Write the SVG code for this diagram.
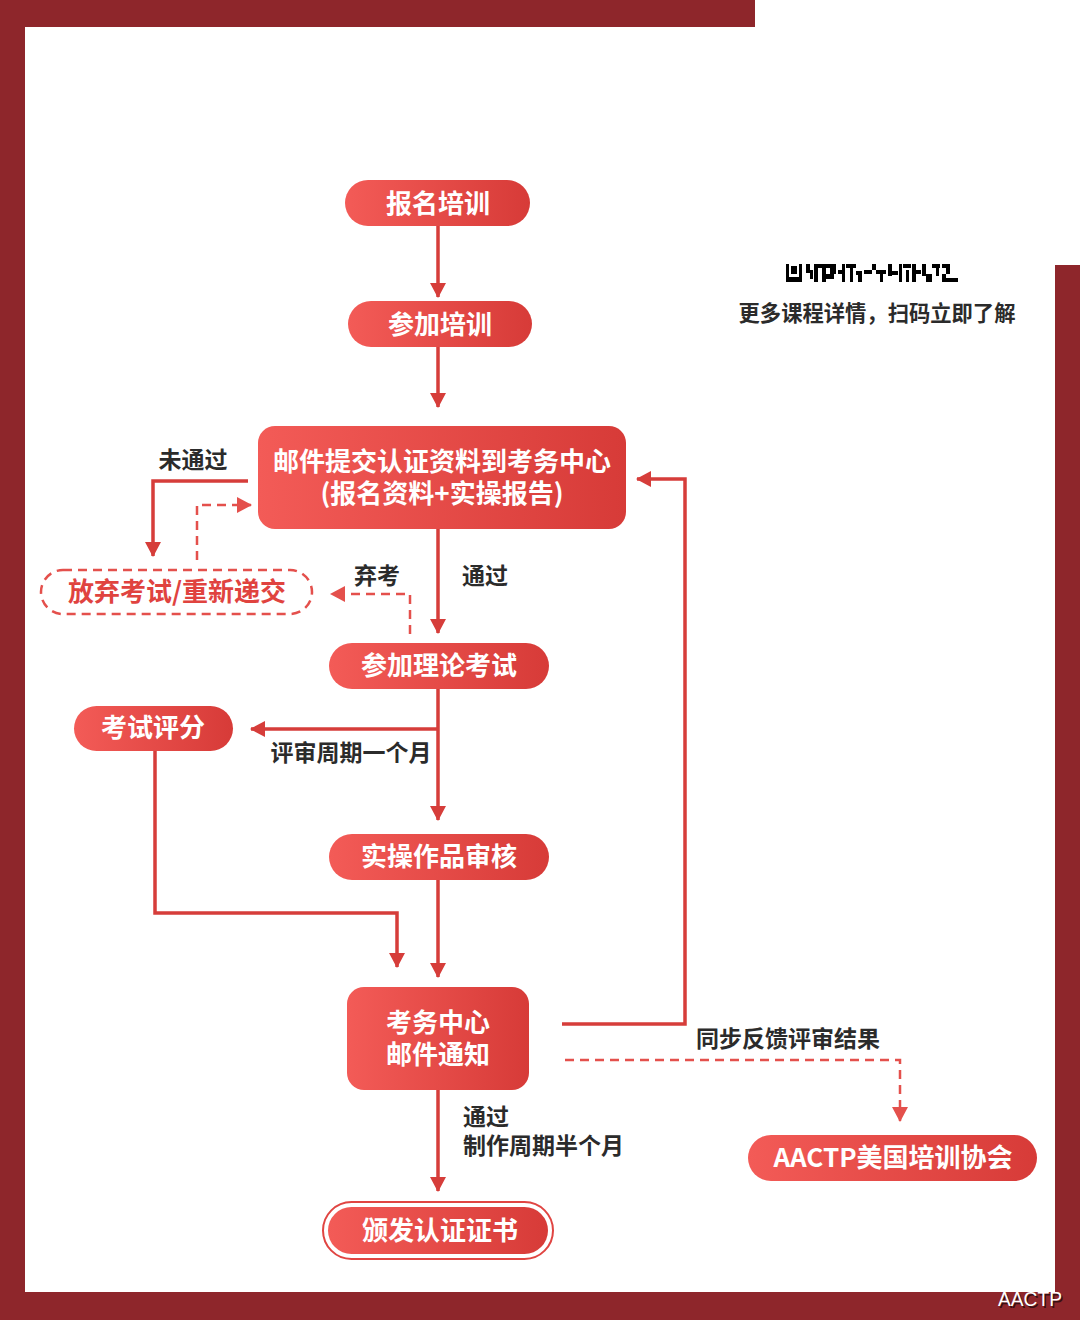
<svg xmlns="http://www.w3.org/2000/svg" width="1080" height="1320" viewBox="0 0 1080 1320">
<style>
.frame{fill:#8e262b}
.node{fill:url(#ng)}
.nt{font-family:"Noto Sans CJK SC","Noto Sans",sans-serif;font-weight:bold;font-size:26px;fill:#fff;text-anchor:middle}
.lb{font-family:"Noto Sans CJK SC","Noto Sans",sans-serif;font-weight:bold;font-size:23px;fill:#2b2b2b}
.ln{fill:none;stroke:#d63d3a;stroke-width:3.5;marker-end:url(#ah)}
.dl{fill:none;stroke:#e4504c;stroke-width:2.5;stroke-dasharray:9 6;marker-end:url(#ahd)}
.q{fill:#000}
</style>
<defs>
<linearGradient id="ng" x1="0" y1="0" x2="1" y2="0">
<stop offset="0" stop-color="#f35b57"/>
<stop offset="1" stop-color="#d73b38"/>
</linearGradient>
<marker id="ah" markerUnits="userSpaceOnUse" markerWidth="16" markerHeight="16" refX="14" refY="8" orient="auto">
<path d="M0,0 L15,8 L0,16 z" fill="#d63d3a"/>
</marker>
<marker id="ahd" markerUnits="userSpaceOnUse" markerWidth="16" markerHeight="16" refX="14" refY="8" orient="auto">
<path d="M0,0 L15,8 L0,16 z" fill="#e4504c"/>
</marker>
<linearGradient id="gv1" gradientUnits="userSpaceOnUse" x1="0" y1="226" x2="0" y2="298"><stop offset="0" stop-color="#f4b8b7"/><stop offset="1" stop-color="#d63d3a"/></linearGradient>
<linearGradient id="gv2" gradientUnits="userSpaceOnUse" x1="0" y1="347" x2="0" y2="408"><stop offset="0" stop-color="#f4b8b7"/><stop offset="1" stop-color="#d63d3a"/></linearGradient>
<linearGradient id="gv3" gradientUnits="userSpaceOnUse" x1="0" y1="529" x2="0" y2="634"><stop offset="0" stop-color="#f4b8b7"/><stop offset="0.5" stop-color="#d63d3a"/></linearGradient>
<linearGradient id="gv4" gradientUnits="userSpaceOnUse" x1="0" y1="689" x2="0" y2="820"><stop offset="0" stop-color="#f4c0bf"/><stop offset="0.6" stop-color="#d63d3a"/></linearGradient>
<linearGradient id="gv5" gradientUnits="userSpaceOnUse" x1="0" y1="880" x2="0" y2="978"><stop offset="0" stop-color="#f4c0bf"/><stop offset="0.6" stop-color="#d63d3a"/></linearGradient>
<linearGradient id="gv6" gradientUnits="userSpaceOnUse" x1="0" y1="1090" x2="0" y2="1192"><stop offset="0" stop-color="#f4c0bf"/><stop offset="0.5" stop-color="#d63d3a"/></linearGradient>
<linearGradient id="gv7" gradientUnits="userSpaceOnUse" x1="0" y1="751" x2="0" y2="900"><stop offset="0" stop-color="#f0a9a8"/><stop offset="1" stop-color="#d63d3a"/></linearGradient>
<linearGradient id="gh1" gradientUnits="userSpaceOnUse" x1="562" y1="0" x2="685" y2="0"><stop offset="0" stop-color="#f4c0bf"/><stop offset="1" stop-color="#d63d3a"/></linearGradient>
<linearGradient id="gh2" gradientUnits="userSpaceOnUse" x1="248" y1="0" x2="153" y2="0"><stop offset="0" stop-color="#f4c0bf"/><stop offset="0.6" stop-color="#d63d3a"/></linearGradient>
</defs>

<rect width="1080" height="1320" fill="#fff"/>
<g id="frame">
<rect class="frame" x="0" y="0" width="755" height="27"/>
<rect class="frame" x="0" y="0" width="25" height="1320"/>
<rect class="frame" x="0" y="1292" width="1080" height="28"/>
<rect class="frame" x="1055" y="265" width="25" height="1055"/>
</g>

<g id="qr">
<rect class="q" x="786" y="264" width="16" height="18"/>
<rect x="789" y="264" width="10" height="13" fill="#fff"/>
<rect class="q" x="791" y="266" width="6" height="8"/>
<rect class="q" x="806" y="264" width="4" height="9"/>
<rect class="q" x="810" y="270" width="3" height="9"/>
<rect class="q" x="814" y="264" width="4" height="18"/>
<rect class="q" x="818" y="264" width="12" height="4"/>
<rect class="q" x="822" y="268" width="4" height="14"/>
<rect class="q" x="826" y="274" width="8" height="5"/>
<rect class="q" x="830" y="264" width="6" height="10"/>
<rect class="q" x="838" y="270" width="6" height="4"/>
<rect class="q" x="842" y="264" width="3" height="18"/>
<rect class="q" x="846" y="264" width="10" height="4"/>
<rect class="q" x="850" y="268" width="3" height="14"/>
<rect class="q" x="856" y="271" width="6" height="4"/>
<rect class="q" x="858" y="275" width="4" height="7"/>
<rect class="q" x="864" y="270" width="8" height="4"/>
<rect class="q" x="872" y="264" width="4" height="6"/>
<rect class="q" x="876" y="270" width="10" height="4"/>
<rect class="q" x="880" y="274" width="3" height="8"/>
<rect class="q" x="888" y="264" width="4" height="12"/>
<rect class="q" x="892" y="271" width="6" height="4"/>
<rect class="q" x="899" y="264" width="3" height="18"/>
<rect class="q" x="903" y="264" width="8" height="4"/>
<rect class="q" x="906" y="270" width="3" height="12"/>
<rect class="q" x="912" y="264" width="4" height="18"/>
<rect class="q" x="916" y="270" width="5" height="4"/>
<rect class="q" x="922" y="264" width="4" height="12"/>
<rect class="q" x="926" y="274" width="6" height="8"/>
<rect class="q" x="932" y="264" width="8" height="4"/>
<rect class="q" x="936" y="268" width="3" height="8"/>
<rect class="q" x="942" y="264" width="8" height="4"/>
<rect class="q" x="946" y="268" width="4" height="6"/>
<rect class="q" x="942" y="274" width="4" height="8"/>
<rect class="q" x="946" y="278" width="12" height="4"/>
</g>
<text class="lb" x="877" y="321" text-anchor="middle" style="font-size:21.3px">更多课程详情，扫码立即了解</text>

<g id="connectors">
<path class="ln" d="M438,226 V297" stroke="url(#gv1)"/>
<path class="ln" d="M438,347 V407" stroke="url(#gv2)"/>
<path class="ln" d="M438,529 V633" stroke="url(#gv3)"/>
<path class="ln" d="M248,481 H153 V556" stroke="url(#gh2)"/>
<path class="dl" d="M197,560 V505 H251"/>
<path class="dl" d="M410,634 V594 H331"/>
<path class="ln" d="M438,689 V820" stroke="url(#gv4)"/>
<path class="ln" d="M438,729 H251"/>
<path class="ln" d="M155,751 V913 H397 V967" stroke="url(#gv7)"/>
<path class="ln" d="M438,880 V977" stroke="url(#gv5)"/>
<path class="ln" d="M562,1024 H685 V479 H637" stroke="url(#gh1)"/>
<path class="dl" d="M565,1060 H900 V1121"/>
<path class="ln" d="M438,1090 V1191" stroke="url(#gv6)"/>
</g>

<g id="labels">
<text class="lb" x="193" y="468" text-anchor="middle">未通过</text>
<text class="lb" x="377" y="584" text-anchor="middle">弃考</text>
<text class="lb" x="485" y="584" text-anchor="middle">通过</text>
<text class="lb" x="351" y="761" text-anchor="middle">评审周期一个月</text>
<text class="lb" x="788" y="1047" text-anchor="middle">同步反馈评审结果</text>
<text class="lb" x="463" y="1125">通过</text>
<text class="lb" x="463" y="1154">制作周期半个月</text>
</g>

<g id="n1"><rect class="node" x="345" y="180" width="185" height="46" rx="23"/><text class="nt" x="438" y="213">报名培训</text></g>
<g id="n2"><rect class="node" x="348" y="301" width="184" height="46" rx="23"/><text class="nt" x="440" y="334">参加培训</text></g>
<g id="n3"><rect class="node" x="258" y="426" width="368" height="103" rx="17"/><text class="nt" x="442" y="471">邮件提交认证资料到考务中心</text><text class="nt" x="442" y="503">(报名资料+实操报告)</text></g>
<g id="n4"><rect x="41" y="570" width="271" height="44" rx="22" fill="#fff" stroke="#e4504c" stroke-width="2.5" stroke-dasharray="9 6"/><text class="nt" x="177" y="601" style="fill:#e0433f">放弃考试/重新递交</text></g>
<g id="n5"><rect class="node" x="329" y="643" width="220" height="46" rx="23"/><text class="nt" x="439" y="675">参加理论考试</text></g>
<g id="n6"><rect class="node" x="74" y="706" width="159" height="45" rx="22.5"/><text class="nt" x="153" y="737">考试评分</text></g>
<g id="n7"><rect class="node" x="329" y="834" width="220" height="46" rx="23"/><text class="nt" x="439" y="866">实操作品审核</text></g>
<g id="n8"><rect class="node" x="347" y="987" width="182" height="103" rx="17"/><text class="nt" x="438" y="1032">考务中心</text><text class="nt" x="438" y="1064">邮件通知</text></g>
<g id="n9"><rect class="node" x="748" y="1135" width="289" height="46" rx="23"/><text class="nt" x="893" y="1167">AACTP美国培训协会</text></g>
<g id="n10"><rect x="323" y="1202" width="230" height="57" rx="28.5" fill="#fff" stroke="#e04542" stroke-width="2"/><rect class="node" x="328" y="1207" width="220" height="47" rx="23.5"/><text class="nt" x="440" y="1240">颁发认证证书</text></g>

<text x="1062" y="1306" text-anchor="end" font-family="Liberation Sans, Arial, sans-serif" font-size="21" fill="#000" opacity="0.6" transform="translate(1.5,1.5)" textLength="64" lengthAdjust="spacingAndGlyphs">AACTP</text>
<text x="1062" y="1306" text-anchor="end" font-family="Liberation Sans, Arial, sans-serif" font-size="21" fill="#fff" textLength="64" lengthAdjust="spacingAndGlyphs">AACTP</text>
</svg>
